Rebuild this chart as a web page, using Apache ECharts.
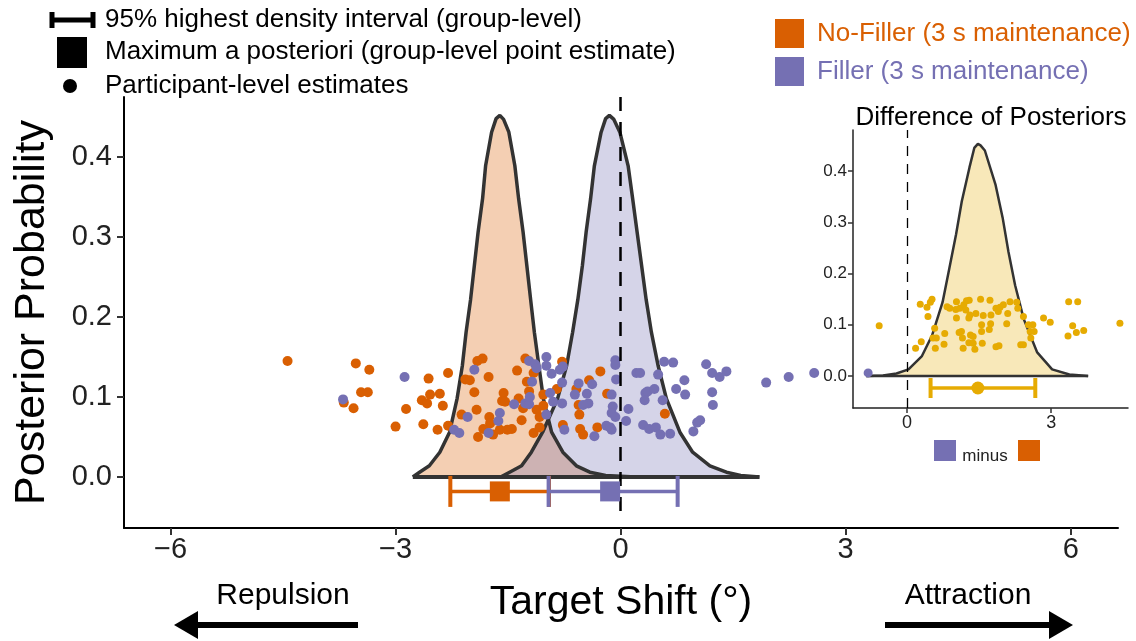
<!DOCTYPE html>
<html>
<head>
<meta charset="utf-8">
<script src="https://cdn.jsdelivr.net/npm/echarts@6.0.0/dist/echarts.min.js"></script>
<style>
  html, body { margin: 0; padding: 0; background: #fff; }
  #chart { width: 1136px; height: 641px; }
</style>
</head>
<body>
<div id="chart"></div>
<script>
// ---- data ----
const xTicks = [-6, -3, 0, 3, 6];
const yTicks = [0, 0.1, 0.2, 0.3, 0.4];
const insetXTicks = [0, 3];
const insetYTicks = [0, 0.1, 0.2, 0.3, 0.4];

// posterior densities [shift, probability]
const noFillerDensity = [
  [-2.77, 0], [-2.68, 0.006], [-2.55, 0.014], [-2.41, 0.031], [-2.28, 0.056], [-2.18, 0.098],
  [-2.11, 0.139], [-2.06, 0.181], [-2.0, 0.222], [-1.95, 0.264], [-1.9, 0.306], [-1.84, 0.348],
  [-1.8, 0.389], [-1.72, 0.431], [-1.66, 0.448], [-1.61, 0.452], [-1.56, 0.447], [-1.49, 0.431],
  [-1.41, 0.389], [-1.36, 0.348], [-1.3, 0.306], [-1.25, 0.264], [-1.2, 0.222], [-1.15, 0.181],
  [-1.09, 0.139], [-1.03, 0.098], [-0.92, 0.056], [-0.77, 0.031], [-0.59, 0.014], [-0.41, 0.006],
  [-0.2, 0.002], [0.2, 0]
];
const fillerDensity = [
  [-1.6, 0], [-1.48, 0.006], [-1.32, 0.014], [-1.19, 0.031], [-1.04, 0.056], [-0.84, 0.098],
  [-0.72, 0.139], [-0.64, 0.181], [-0.57, 0.222], [-0.51, 0.264], [-0.46, 0.306], [-0.4, 0.348],
  [-0.35, 0.389], [-0.26, 0.431], [-0.2, 0.448], [-0.15, 0.452], [-0.09, 0.447], [-0.01, 0.431],
  [0.1, 0.389], [0.16, 0.348], [0.22, 0.306], [0.28, 0.264], [0.34, 0.222], [0.41, 0.181],
  [0.5, 0.139], [0.61, 0.098], [0.79, 0.056], [0.96, 0.031], [1.19, 0.014], [1.41, 0.006],
  [1.6, 0.002], [1.85, 0]
];
const groupBaseline = [[-2.77, 0], [1.85, 0]];
const diffDensity = [
  [-0.85, 0], [-0.5, 0.001], [-0.22, 0.005], [0.03, 0.013], [0.31, 0.039], [0.52, 0.079],
  [0.74, 0.144], [0.88, 0.21], [1.02, 0.276], [1.14, 0.341], [1.3, 0.407], [1.4, 0.445],
  [1.475, 0.453], [1.53, 0.45], [1.62, 0.44], [1.84, 0.374], [1.99, 0.309], [2.11, 0.243],
  [2.25, 0.177], [2.43, 0.111], [2.71, 0.046], [3.02, 0.013], [3.38, 0.003], [3.77, 0]
];
const diffBaseline = [[-0.85, 0], [3.77, 0]];

// participant-level estimates [shift, jittered height]
const noFillerPoints = [
  [-4.44, 0.145], [-3.53, 0.142], [-3.35, 0.134], [-3.46, 0.106], [-3.37, 0.106], [-3.69, 0.093],
  [-3.56, 0.086], [-2.65, 0.096], [-2.58, 0.092], [-2.54, 0.103], [-2.41, 0.104], [-2.37, 0.089],
  [-2.86, 0.085], [-2.56, 0.123], [-2.3, 0.13], [-3.0, 0.063], [-2.63, 0.066], [-2.44, 0.059],
  [-2.3, 0.064], [-2.12, 0.078], [-2.07, 0.122], [-2.01, 0.121], [-1.95, 0.106], [-1.92, 0.084],
  [-1.91, 0.145], [-1.84, 0.148], [-1.76, 0.125], [-1.75, 0.075], [-1.74, 0.067], [-1.9, 0.05],
  [-1.83, 0.06], [-1.7, 0.053], [-1.61, 0.059], [-1.56, 0.105], [-1.58, 0.095], [-1.54, 0.094],
  [-1.51, 0.059], [-1.45, 0.06], [-1.38, 0.133], [-1.36, 0.098], [-1.32, 0.071], [-1.3, 0.086],
  [-1.27, 0.148], [-1.25, 0.119], [-1.22, 0.107], [-1.16, 0.13], [-1.16, 0.055], [-1.12, 0.084],
  [-1.08, 0.062], [-1.08, 0.075], [-1.03, 0.103], [-1.03, 0.089], [-0.78, 0.144], [-0.77, 0.065],
  [-0.85, 0.11], [-0.27, 0.132], [-0.42, 0.121], [-0.59, 0.11], [-0.56, 0.09], [-0.55, 0.078],
  [-0.54, 0.06], [-0.5, 0.053], [-0.31, 0.062], [-0.18, 0.104], [0.59, 0.079]
];
const fillerPoints = [
  [-3.7, 0.097], [-2.88, 0.125], [-1.95, 0.134], [-2.04, 0.075], [-2.22, 0.059], [-2.15, 0.055],
  [-1.61, 0.08], [-1.63, 0.07], [-1.76, 0.055], [-1.42, 0.091], [-1.27, 0.092], [-1.22, 0.091],
  [-1.21, 0.1], [-1.18, 0.119], [-1.22, 0.145], [-1.14, 0.141], [-1.12, 0.136], [-0.99, 0.15],
  [-0.99, 0.139], [-0.92, 0.129], [-0.81, 0.134], [-0.77, 0.138], [-0.78, 0.118], [-0.94, 0.105],
  [-0.9, 0.094], [-0.78, 0.092], [-0.99, 0.078], [-0.75, 0.059], [-0.61, 0.103], [-0.56, 0.117],
  [-0.45, 0.104], [-0.43, 0.092], [-0.38, 0.116], [-0.5, 0.09], [-0.07, 0.146], [-0.07, 0.14],
  [-0.06, 0.122], [-0.12, 0.103], [-0.105, 0.088], [-0.12, 0.08], [-0.07, 0.075], [0.073, 0.07],
  [0.104, 0.085], [-0.19, 0.064], [-0.14, 0.062], [-0.12, 0.059], [-0.35, 0.051], [0.21, 0.13],
  [0.26, 0.13], [0.5, 0.128], [0.58, 0.144], [0.7, 0.143], [0.33, 0.105], [0.36, 0.107],
  [0.45, 0.11], [0.32, 0.096], [0.56, 0.096], [0.74, 0.11], [0.85, 0.121], [0.86, 0.103],
  [0.3, 0.065], [0.38, 0.06], [0.47, 0.062], [0.53, 0.053], [0.66, 0.054], [0.97, 0.057],
  [1.02, 0.068], [1.06, 0.071], [1.14, 0.141], [1.22, 0.13], [1.32, 0.125], [1.41, 0.132],
  [1.22, 0.106], [1.23, 0.09], [1.94, 0.118], [2.24, 0.125], [2.58, 0.13]
];
const diffPoints = [
  [-0.58, 0.098], [0.275, 0.14], [0.415, 0.134], [0.485, 0.144], [0.52, 0.15], [0.436, 0.116],
  [0.575, 0.093], [0.54, 0.074], [0.61, 0.074], [0.296, 0.067], [0.178, 0.054], [0.589, 0.054],
  [0.785, 0.083], [0.77, 0.062], [0.833, 0.135], [0.889, 0.132], [1.029, 0.145], [1.015, 0.13],
  [1.098, 0.132], [1.182, 0.139], [1.238, 0.147], [1.294, 0.148], [1.224, 0.129], [1.308, 0.119],
  [1.287, 0.113], [1.029, 0.113], [1.133, 0.087], [1.084, 0.085], [1.154, 0.074], [1.321, 0.08],
  [1.377, 0.077], [1.287, 0.065], [1.377, 0.064], [1.412, 0.052], [1.168, 0.054], [1.566, 0.064],
  [1.433, 0.122], [1.531, 0.15], [1.586, 0.118], [1.726, 0.148], [1.747, 0.119], [1.851, 0.132],
  [1.9, 0.126], [1.935, 0.134], [2.005, 0.139], [2.096, 0.122], [2.144, 0.145], [2.284, 0.144],
  [2.305, 0.132], [1.74, 0.102], [1.552, 0.1], [1.552, 0.087], [1.712, 0.091], [2.075, 0.102],
  [1.851, 0.057], [1.914, 0.059], [2.367, 0.061], [2.423, 0.061], [2.423, 0.116], [2.528, 0.1],
  [2.619, 0.1], [2.563, 0.087], [2.646, 0.087], [2.577, 0.074], [2.842, 0.113], [2.981, 0.105],
  [3.365, 0.145], [3.553, 0.145], [3.448, 0.098], [3.525, 0.085], [3.678, 0.089], [3.351, 0.078],
  [4.432, 0.103]
];
const diffOutlier = [[-0.81, 0.006]];

// group-level: [hdi low, hdi high, MAP, drawn height]
const groupHdi = [
  [-2.27, -0.955, -1.61, -0.018],
  [-0.96, 0.76, -0.14, -0.018]
];
const diffHdi = [[0.49, 2.67, 1.475, -0.0234]];

const NAMES = ['No-Filler (3 s maintenance)', 'Filler (3 s maintenance)'];
const ORANGE = '#D95F02', PURPLE = '#7570B3', GOLD = '#E6AB02';
const FONT = '"Liberation Sans", Arial, Helvetica, sans-serif';

const minus = v => (v < 0 ? '\u2212' + Math.abs(v) : String(v));

function hdiRenderer(colors, capHalf, markSize, round) {
  return function (params, api) {
    const c = colors[params.dataIndex];
    const y = api.value(3);
    const a = api.coord([api.value(0), y]);
    const b = api.coord([api.value(1), y]);
    const m = api.coord([api.value(2), y]);
    const mark = round
      ? { type: 'circle', shape: { cx: m[0], cy: m[1], r: markSize / 2 }, style: { fill: c } }
      : { type: 'rect', shape: { x: m[0] - markSize / 2, y: m[1] - markSize / 2, width: markSize, height: markSize }, style: { fill: c } };
    return {
      type: 'group',
      children: [
        { type: 'line', shape: { x1: a[0], y1: a[1], x2: b[0], y2: b[1] }, style: { stroke: c, lineWidth: 3.5 } },
        { type: 'line', shape: { x1: a[0], y1: a[1] - capHalf, x2: a[0], y2: a[1] + capHalf }, style: { stroke: c, lineWidth: 4 } },
        { type: 'line', shape: { x1: b[0], y1: b[1] - capHalf, x2: b[0], y2: b[1] + capHalf }, style: { stroke: c, lineWidth: 4 } },
        mark
      ]
    };
  };
}

function txt(text, x, y, size, color, align) {
  return {
    type: 'text', z: 50,
    style: { text: text, x: x, y: y, fontSize: size, fontFamily: FONT, fill: color || '#000',
             align: align || 'left', verticalAlign: 'middle' }
  };
}

const chart = echarts.init(document.getElementById('chart'), null, { renderer: 'canvas' });

const option = {
  animation: false,
  backgroundColor: '#fff',
  textStyle: { fontFamily: FONT },
  legend: {
    orient: 'vertical', left: 770, top: 14, itemWidth: 29, itemHeight: 29, itemGap: 9,
    icon: 'rect', selectedMode: false,
    textStyle: { fontSize: 26, fontFamily: FONT, padding: [0, 0, 0, 8] },
    data: [
      { name: NAMES[0], textStyle: { color: ORANGE } },
      { name: NAMES[1], textStyle: { color: PURPLE } }
    ]
  },
  grid: [
    { left: 124, top: 97, width: 994, height: 431 },
    { left: 853, top: 130, width: 275, height: 278 }
  ],
  xAxis: [
    {
      gridIndex: 0, type: 'value', min: -6.62, max: 6.63,
      splitLine: { show: false },
      axisLine: { onZero: false, lineStyle: { color: '#000', width: 2 } },
      axisTick: { customValues: xTicks, length: 7, lineStyle: { color: '#333', width: 2 } },
      axisLabel: { customValues: xTicks, formatter: minus, fontSize: 29, color: '#222', margin: 7 },
      name: 'Target Shift (°)', nameLocation: 'middle', nameGap: 54,
      nameTextStyle: { fontSize: 41, color: '#000' }
    },
    {
      gridIndex: 1, type: 'value', min: -1.125, max: 4.6,
      splitLine: { show: false },
      axisLine: { onZero: false, lineStyle: { color: '#222', width: 1.5 } },
      axisTick: { customValues: insetXTicks, length: 5, lineStyle: { color: '#333', width: 1.5 } },
      axisLabel: { customValues: insetXTicks, fontSize: 18, color: '#222', margin: 6 }
    }
  ],
  yAxis: [
    {
      gridIndex: 0, type: 'value', min: -0.06375, max: 0.475,
      splitLine: { show: false },
      axisLine: { onZero: false, lineStyle: { color: '#000', width: 2 } },
      axisTick: { customValues: yTicks, length: 7, lineStyle: { color: '#333', width: 2 } },
      axisLabel: { customValues: yTicks, formatter: v => v.toFixed(1), fontSize: 29, color: '#222', margin: 12 },
      name: 'Posterior Probability', nameLocation: 'middle', nameGap: 70, nameRotate: 90,
      nameTextStyle: { fontSize: 43, color: '#000' }
    },
    {
      gridIndex: 1, type: 'value', min: -0.0624, max: 0.48,
      splitLine: { show: false },
      axisLine: { onZero: false, lineStyle: { color: '#222', width: 1.5 } },
      axisTick: { customValues: insetYTicks, length: 5, lineStyle: { color: '#333', width: 1.5 } },
      axisLabel: { customValues: insetYTicks, formatter: v => v.toFixed(1), fontSize: 17, color: '#222', margin: 6 }
    }
  ],
  series: [
    {
      name: 'noFillerDensity', type: 'line', xAxisIndex: 0, yAxisIndex: 0, data: noFillerDensity,
      showSymbol: false, z: 2, silent: true,
      lineStyle: { color: '#333', width: 3.5 },
      areaStyle: { color: ORANGE, opacity: 0.3 }
    },
    {
      name: 'fillerDensity', type: 'line', xAxisIndex: 0, yAxisIndex: 0, data: fillerDensity,
      showSymbol: false, z: 2, silent: true,
      lineStyle: { color: '#333', width: 3.5 },
      areaStyle: { color: PURPLE, opacity: 0.3 },
      markLine: {
        silent: true, symbol: 'none', label: { show: false },
        lineStyle: { color: '#000', type: [14, 11], width: 2.5 },
        data: [[{ coord: [0, 0.475] }, { coord: [0, -0.044] }]]
      }
    },
    {
      name: 'groupBaseline', type: 'line', xAxisIndex: 0, yAxisIndex: 0, data: groupBaseline,
      showSymbol: false, z: 2, silent: true, lineStyle: { color: '#333', width: 4 }
    },
    {
      name: NAMES[0], type: 'scatter', xAxisIndex: 0, yAxisIndex: 0, data: noFillerPoints,
      symbolSize: 10, z: 3, itemStyle: { color: ORANGE, opacity: 1 }
    },
    {
      name: NAMES[1], type: 'scatter', xAxisIndex: 0, yAxisIndex: 0, data: fillerPoints,
      symbolSize: 10, z: 4, itemStyle: { color: PURPLE, opacity: 1 }
    },
    {
      name: 'groupHdi', type: 'custom', xAxisIndex: 0, yAxisIndex: 0, data: groupHdi, z: 5,
      renderItem: hdiRenderer([ORANGE, PURPLE], 15.5, 20, false)
    },
    {
      name: 'diffDensity', type: 'line', xAxisIndex: 1, yAxisIndex: 1, data: diffDensity,
      showSymbol: false, z: 2, silent: true,
      lineStyle: { color: '#333', width: 2.5 },
      areaStyle: { color: GOLD, opacity: 0.28 },
      markLine: {
        silent: true, symbol: 'none', label: { show: false },
        lineStyle: { color: '#000', type: [10, 8], width: 1.3 },
        data: [{ xAxis: 0 }]
      }
    },
    {
      name: 'diffBaseline', type: 'line', xAxisIndex: 1, yAxisIndex: 1, data: diffBaseline,
      showSymbol: false, z: 2, silent: true, lineStyle: { color: '#333', width: 2.5 }
    },
    {
      name: 'diffPoints', type: 'scatter', xAxisIndex: 1, yAxisIndex: 1, data: diffPoints,
      symbolSize: 7, z: 3, itemStyle: { color: GOLD, opacity: 1 }
    },
    {
      name: 'diffOutlier', type: 'scatter', xAxisIndex: 1, yAxisIndex: 1, data: diffOutlier,
      symbolSize: 9, z: 3, itemStyle: { color: PURPLE, opacity: 1 }
    },
    {
      name: 'diffHdi', type: 'custom', xAxisIndex: 1, yAxisIndex: 1, data: diffHdi, z: 5,
      renderItem: hdiRenderer([GOLD], 10, 13, true)
    }
  ],
  graphic: [
    // top-left key
    { type: 'line', shape: { x1: 50, y1: 20, x2: 95, y2: 20 }, style: { stroke: '#000', lineWidth: 5 } },
    { type: 'line', shape: { x1: 52, y1: 12, x2: 52, y2: 28 }, style: { stroke: '#000', lineWidth: 5 } },
    { type: 'line', shape: { x1: 93, y1: 12, x2: 93, y2: 28 }, style: { stroke: '#000', lineWidth: 5 } },
    { type: 'rect', shape: { x: 57, y: 37, width: 30, height: 31 }, style: { fill: '#000' } },
    { type: 'circle', shape: { cx: 70, cy: 86, r: 7 }, style: { fill: '#000' } },
    txt('95% highest density interval (group-level)', 105, 20, 26),
    txt('Maximum a posteriori (group-level point estimate)', 105, 52, 26),
    txt('Participant-level estimates', 105, 86, 26),
    // inset title and key
    txt('Difference of Posteriors', 991, 118, 26, '#000', 'center'),
    { type: 'rect', shape: { x: 934, y: 440, width: 22, height: 21 }, style: { fill: PURPLE } },
    txt('minus', 985, 456, 17, '#222', 'center'),
    { type: 'rect', shape: { x: 1018, y: 440, width: 22, height: 21 }, style: { fill: ORANGE } },
    // direction arrows
    txt('Repulsion', 283, 596, 30, '#000', 'center'),
    txt('Attraction', 968, 596, 30, '#000', 'center'),
    { type: 'polyline', shape: { points: [[358, 625], [192, 625]] }, style: { stroke: '#000', lineWidth: 6 } },
    { type: 'polygon', shape: { points: [[174, 625], [198, 611], [198, 639]] }, style: { fill: '#000' } },
    { type: 'polyline', shape: { points: [[885, 625], [1054, 625]] }, style: { stroke: '#000', lineWidth: 6 } },
    { type: 'polygon', shape: { points: [[1073, 625], [1049, 611], [1049, 639]] }, style: { fill: '#000' } }
  ]
};

chart.setOption(option);
</script>
</body>
</html>
